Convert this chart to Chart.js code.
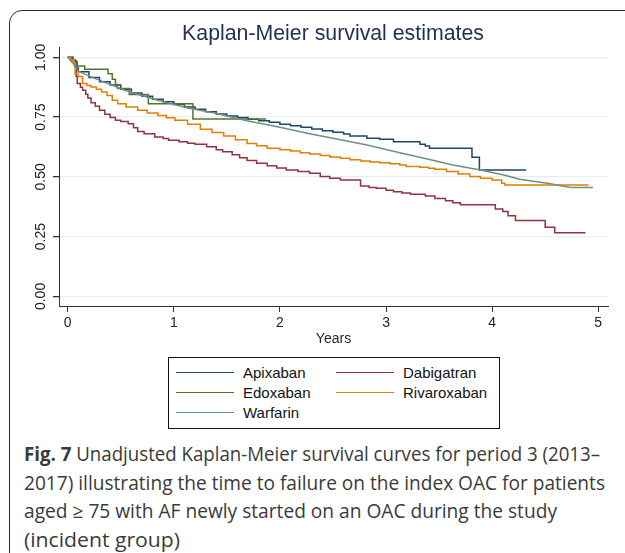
<!DOCTYPE html>
<html>
<head>
<meta charset="utf-8">
<script src="https://cdn.jsdelivr.net/npm/chart.js@4.4.1/dist/chart.umd.min.js"></script>
<style>
  html, body { margin: 0; padding: 0; background: #fff; }
  body { width: 625px; height: 553px; position: relative; overflow: hidden; font-family: "Liberation Sans", Arial, sans-serif; }
  #frame { position: absolute; left: 9px; top: 10px; width: 650px; height: 580px; border: 1.5px solid #2b2b2b; border-radius: 13px; box-sizing: border-box; }
  #title { position: absolute; left: 333px; top: 20px; transform: translateX(-50%); white-space: nowrap; font-size: 21.3px; line-height: 26px; color: #1f2f55; }
  #wrap { position: absolute; left: 0; top: 0; width: 625px; height: 352px; }
  #legend { position: absolute; left: 168px; top: 357px; width: 332px; height: 72px; border: 1px solid #111; box-sizing: border-box; }
  .item { position: absolute; height: 20px; }
  .item .swatch { position: absolute; left: 0; top: 9px; width: 58px; height: 0; border-top: 1.6px solid; }
  .item .lab { position: absolute; left: 67px; top: 0; line-height: 20px; font-size: 15px; color: #111; white-space: nowrap; }
  #caption { position: absolute; left: 24px; top: 440px; font-family: "Open Sans", "Noto Sans", sans-serif; font-size: 19.5px; line-height: 28.5px; color: #3a3a3a; }
  #caption span.line { display: inline-block; white-space: nowrap; transform-origin: 0 50%; }
</style>
</head>
<body>
<div id="frame"></div>
<div id="wrap"><canvas id="kmChart" width="625" height="352"></canvas></div>
<div id="title">Kaplan-Meier survival estimates</div>
<div id="legend"></div>
<div id="caption">
  <span class="line" data-w="576"><b>Fig. 7</b> Unadjusted Kaplan-Meier survival curves for period 3 (2013–</span><br>
  <span class="line" data-w="581">2017) illustrating the time to failure on the index OAC for patients</span><br>
  <span class="line" data-w="533">aged ≥ 75 with AF newly started on an OAC during the study</span><br>
  <span class="line" data-w="156">(incident group)</span>
</div>
<script>
// ---- data ----
const xTicks = [0, 1, 2, 3, 4, 5];
const yTicks = [0, 0.25, 0.5, 0.75, 1];

const seriesNames = ['Apixaban', 'Dabigatran', 'Edoxaban', 'Rivaroxaban', 'Warfarin'];
const seriesColors = ['#1a476f', '#90353b', '#55752f', '#e37e00', '#6e8e84'];

const apixabanYears = [0, 0.05, 0.08, 0.1, 0.2, 0.3, 0.4, 0.5, 0.6, 0.7, 0.8, 0.9, 1.0, 1.1, 1.2, 1.3, 1.4, 1.5, 1.6, 1.7, 1.8, 1.9, 2.0, 2.1, 2.2, 2.3, 2.4, 2.5, 2.6, 2.66, 2.82, 2.94, 3.07, 3.32, 3.37, 3.41, 3.81, 3.88, 4.32];
const apixabanSurv  = [1, 0.985, 0.955, 0.94, 0.915, 0.898, 0.884, 0.866, 0.851, 0.837, 0.824, 0.814, 0.803, 0.792, 0.783, 0.772, 0.763, 0.755, 0.748, 0.741, 0.735, 0.728, 0.72, 0.714, 0.707, 0.7, 0.693, 0.687, 0.679, 0.671, 0.661, 0.657, 0.647, 0.636, 0.629, 0.62, 0.582, 0.529, 0.529];

const dabigatranYears = [0, 0.04, 0.07, 0.08, 0.09, 0.12, 0.14, 0.17, 0.19, 0.22, 0.26, 0.3, 0.35, 0.4, 0.45, 0.5, 0.57, 0.62, 0.66, 0.72, 0.82, 0.9, 0.95, 1.05, 1.13, 1.2, 1.31, 1.4, 1.46, 1.55, 1.62, 1.69, 1.78, 1.88, 1.97, 2.06, 2.17, 2.28, 2.38, 2.47, 2.57, 2.76, 2.84, 2.91, 3.0, 3.07, 3.15, 3.23, 3.37, 3.46, 3.56, 3.63, 3.7, 4.03, 4.1, 4.15, 4.22, 4.5, 4.59, 4.88];
const dabigatranSurv  = [1, 0.99, 0.975, 0.92, 0.89, 0.875, 0.862, 0.845, 0.83, 0.81, 0.795, 0.778, 0.762, 0.748, 0.737, 0.732, 0.722, 0.705, 0.69, 0.68, 0.667, 0.66, 0.653, 0.647, 0.641, 0.636, 0.626, 0.613, 0.605, 0.592, 0.58, 0.568, 0.557, 0.546, 0.537, 0.529, 0.522, 0.515, 0.501, 0.494, 0.487, 0.462, 0.456, 0.452, 0.444, 0.438, 0.432, 0.427, 0.42, 0.41, 0.4, 0.392, 0.383, 0.366, 0.355, 0.337, 0.318, 0.289, 0.266, 0.266];

const edoxabanYears = [0, 0.03, 0.07, 0.09, 0.16, 0.38, 0.42, 0.45, 0.47, 0.58, 0.76, 1.18, 1.87];
const edoxabanSurv  = [1, 0.99, 0.98, 0.964, 0.95, 0.931, 0.908, 0.886, 0.869, 0.844, 0.806, 0.742, 0.742];

const rivaroxabanYears = [0, 0.03, 0.06, 0.07, 0.1, 0.14, 0.18, 0.22, 0.27, 0.32, 0.37, 0.42, 0.47, 0.55, 0.66, 0.75, 0.85, 0.93, 1.01, 1.13, 1.25, 1.36, 1.47, 1.58, 1.69, 1.78, 1.88, 2.0, 2.1, 2.19, 2.28, 2.38, 2.47, 2.57, 2.66, 2.76, 2.85, 2.94, 3.04, 3.13, 3.19, 3.32, 3.4, 3.46, 3.57, 3.68, 3.79, 3.89, 4.0, 4.09, 4.12, 4.91];
const rivaroxabanSurv  = [1, 0.99, 0.975, 0.93, 0.92, 0.89, 0.882, 0.876, 0.866, 0.855, 0.84, 0.82, 0.806, 0.792, 0.778, 0.767, 0.757, 0.747, 0.737, 0.72, 0.699, 0.685, 0.671, 0.655, 0.64, 0.63, 0.62, 0.613, 0.608, 0.601, 0.596, 0.589, 0.583, 0.578, 0.572, 0.566, 0.562, 0.559, 0.555, 0.55, 0.543, 0.54, 0.536, 0.532, 0.522, 0.512, 0.501, 0.494, 0.487, 0.473, 0.466, 0.466];

const warfarinYears = [0, 0.05, 0.1, 0.22, 0.38, 0.54, 0.69, 0.85, 1.0, 1.13, 1.37, 1.69, 2.0, 2.28, 2.5, 2.82, 3.13, 3.41, 3.63, 3.89, 4.11, 4.26, 4.55, 4.7, 4.75, 4.95];
const warfarinSurv  = [1, 0.975, 0.942, 0.918, 0.89, 0.862, 0.841, 0.82, 0.803, 0.788, 0.768, 0.735, 0.707, 0.68, 0.661, 0.633, 0.601, 0.573, 0.55, 0.529, 0.508, 0.49, 0.471, 0.459, 0.455, 0.455];

const seriesYears = [apixabanYears, dabigatranYears, edoxabanYears, rivaroxabanYears, warfarinYears];
const seriesSurv = [apixabanSurv, dabigatranSurv, edoxabanSurv, rivaroxabanSurv, warfarinSurv];
// warfarin has so many tiny steps it reads as a smooth line
const seriesStepped = [true, true, true, true, false];

const axisFont = '"Liberation Sans", Arial, sans-serif';

// y tick labels are vertical in the original, draw them by hand
const yLabelPlugin = {
    id: 'yLabels',
    afterDraw: function(chart) {
        var c = chart.ctx, sc = chart.scales.y;
        c.save();
        c.font = '14px ' + axisFont;
        c.fillStyle = '#222';
        c.textAlign = 'center';
        c.textBaseline = 'middle';
        yTicks.forEach(function(v) {
            c.save();
            c.translate(41, sc.getPixelForValue(v));
            c.rotate(-Math.PI / 2);
            c.fillText(v.toFixed(2), 0, 0);
            c.restore();
        });
        c.restore();
    }
};

var datasets = seriesNames.map(function(name, i) {
    return {
        label: name,
        data: seriesYears[i].map(function(t, j) { return { x: t, y: seriesSurv[i][j] }; }),
        borderColor: seriesColors[i],
        borderWidth: 1.5,
        stepped: seriesStepped[i],
        pointRadius: 0,
        fill: false,
        order: seriesNames.length - 1 - i
    };
});

new Chart(document.getElementById('kmChart').getContext('2d'), {
    type: 'line',
    data: { datasets: datasets },
    options: {
        responsive: false,
        animation: false,
        layout: { padding: { top: 47, right: 17, left: 0, bottom: 0 } },
        plugins: { legend: { display: false }, tooltip: { enabled: false }, title: { display: false } },
        scales: {
            x: {
                type: 'linear', min: -0.082, max: 5.092,
                afterBuildTicks: function(s) { s.ticks = xTicks.map(function(v) { return { value: v }; }); },
                afterFit: function(s) { s.height = 46; },
                grid: { drawOnChartArea: false, tickLength: 6, tickColor: '#333', color: '#333' },
                border: { color: '#333', width: 1 },
                ticks: { color: '#222', font: { family: axisFont, size: 14 }, padding: 3, maxRotation: 0, autoSkip: false },
                title: { display: true, text: 'Years', color: '#222', font: { family: axisFont, size: 14 }, padding: { top: 0, bottom: 4 } }
            },
            y: {
                type: 'linear', min: -0.04, max: 1.043,
                afterBuildTicks: function(s) { s.ticks = yTicks.map(function(v) { return { value: v }; }); },
                afterFit: function(s) { s.width = 59; },
                grid: { color: '#e6eff1', lineWidth: 1.3, tickLength: 6, tickColor: '#333' },
                border: { color: '#333', width: 1 },
                ticks: { display: false }
            }
        }
    },
    plugins: [yLabelPlugin]
});

// legend box, two columns like the original
var legend = document.getElementById('legend');
seriesNames.forEach(function(name, i) {
    var item = document.createElement('div');
    item.className = 'item';
    item.style.left = (i % 2 === 0 ? 7 : 167) + 'px';
    item.style.top = (5 + Math.floor(i / 2) * 20) + 'px';
    item.innerHTML = '<div class="swatch" style="border-color:' + seriesColors[i] + '"></div><div class="lab">' + name + '</div>';
    legend.appendChild(item);
});

// squeeze/stretch each caption line to the width it has in the figure
document.querySelectorAll('#caption span.line').forEach(function(el) {
    var target = +el.getAttribute('data-w');
    var w = el.getBoundingClientRect().width;
    el.style.transform = 'scaleX(' + (target / w) + ')';
});
</script>
</body>
</html>
